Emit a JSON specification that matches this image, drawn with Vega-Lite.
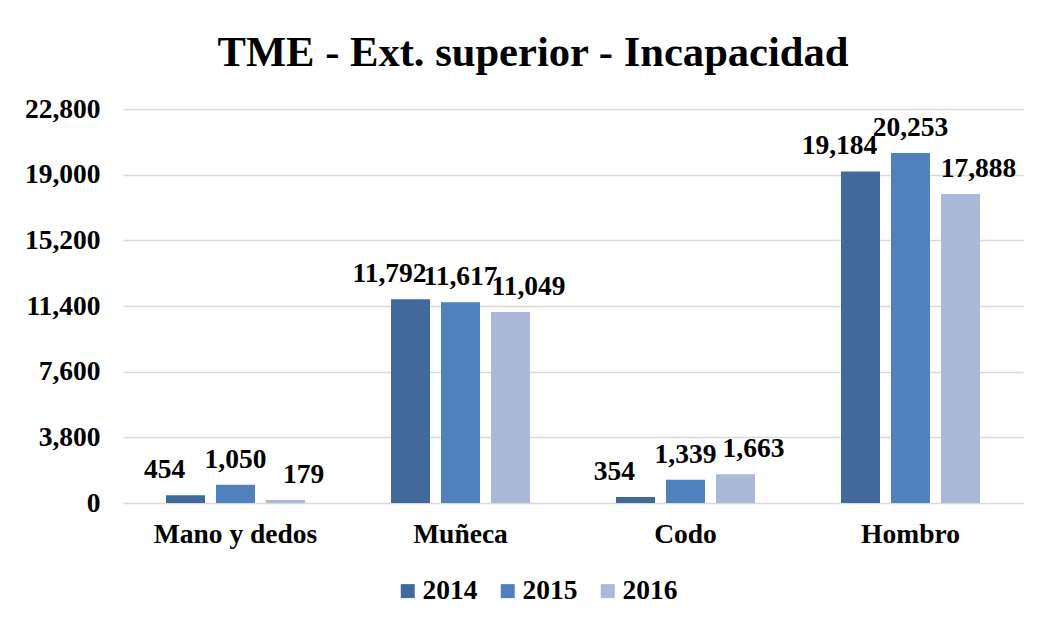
{
  "$schema": "https://vega.github.io/schema/vega-lite/v6.json",
  "width": 900,
  "height": 394,
  "autosize": {"type": "none"},
  "padding": {"left": 123, "top": 109, "right": 18, "bottom": 122},
  "background": "white",
  "title": {
    "text": "TME - Ext. superior - Incapacidad",
    "font": "Liberation Serif",
    "fontSize": 42.6,
    "fontWeight": "bold",
    "color": "#000000",
    "anchor": "middle",
    "dx": -40,
    "offset": 20
  },
  "data": {
    "values": [
      {"zona": "Mano y dedos", "anio": "2014", "valor": 454},
      {"zona": "Mano y dedos", "anio": "2015", "valor": 1050},
      {"zona": "Mano y dedos", "anio": "2016", "valor": 179},
      {"zona": "Muñeca", "anio": "2014", "valor": 11792},
      {"zona": "Muñeca", "anio": "2015", "valor": 11617},
      {"zona": "Muñeca", "anio": "2016", "valor": 11049},
      {"zona": "Codo", "anio": "2014", "valor": 354},
      {"zona": "Codo", "anio": "2015", "valor": 1339},
      {"zona": "Codo", "anio": "2016", "valor": 1663},
      {"zona": "Hombro", "anio": "2014", "valor": 19184},
      {"zona": "Hombro", "anio": "2015", "valor": 20253},
      {"zona": "Hombro", "anio": "2016", "valor": 17888}
    ]
  },
  "encoding": {
    "x": {
      "field": "zona",
      "type": "nominal",
      "sort": ["Mano y dedos", "Muñeca", "Codo", "Hombro"],
      "scale": {"paddingInner": 0.3333, "paddingOuter": 0.16667},
      "axis": {
        "title": null,
        "labelAngle": 0,
        "domain": false,
        "ticks": false,
        "labelPadding": 17,
        "labelFont": "Liberation Serif",
        "labelFontSize": 27.5,
        "labelFontWeight": "bold",
        "labelColor": "#000000"
      }
    },
    "xOffset": {
      "field": "anio",
      "type": "nominal",
      "scale": {"paddingInner": 0.22, "paddingOuter": 0.11}
    },
    "y": {
      "field": "valor",
      "type": "quantitative",
      "scale": {"domain": [0, 22800], "nice": false},
      "axis": {
        "title": null,
        "values": [0, 3800, 7600, 11400, 15200, 19000, 22800],
        "format": ",.0f",
        "domain": false,
        "ticks": false,
        "labelPadding": 23,
        "labelFont": "Liberation Serif",
        "labelFontSize": 27.5,
        "labelFontWeight": "bold",
        "labelColor": "#000000",
        "gridColor": "#d9d9d9",
        "gridWidth": 1.5
      }
    }
  },
  "layer": [
    {
      "mark": {"type": "bar"},
      "encoding": {
        "color": {
          "field": "anio",
          "type": "nominal",
          "scale": {"domain": ["2014", "2015", "2016"], "range": ["#41699c", "#4f81bd", "#aab9d8"]},
          "legend": {
            "title": null,
            "orient": "none",
            "direction": "horizontal",
            "legendX": 271,
            "legendY": 468,
            "symbolType": "square",
            "symbolSize": 196,
            "symbolStrokeWidth": 0,
            "labelFont": "Liberation Serif",
            "labelFontSize": 27.5,
            "labelFontWeight": "bold",
            "labelColor": "#000000",
            "labelOffset": 1,
            "columnPadding": 16
          }
        }
      }
    },
    {
      "transform": [{"filter": "datum.anio == '2014'"}],
      "mark": {"type": "text", "font": "Liberation Serif", "fontSize": 27.5, "fontWeight": "bold", "color": "#000000", "baseline": "alphabetic", "dy": -17, "dx": -21},
      "encoding": {"text": {"field": "valor", "type": "quantitative", "format": ","}}
    },
    {
      "transform": [{"filter": "datum.anio == '2015'"}],
      "mark": {"type": "text", "font": "Liberation Serif", "fontSize": 27.5, "fontWeight": "bold", "color": "#000000", "baseline": "alphabetic", "dy": -17, "dx": 0},
      "encoding": {"text": {"field": "valor", "type": "quantitative", "format": ","}}
    },
    {
      "transform": [{"filter": "datum.anio == '2016'"}],
      "mark": {"type": "text", "font": "Liberation Serif", "fontSize": 27.5, "fontWeight": "bold", "color": "#000000", "baseline": "alphabetic", "dy": -17, "dx": 18},
      "encoding": {"text": {"field": "valor", "type": "quantitative", "format": ","}}
    }
  ],
  "config": {
    "view": {"stroke": null}
  }
}
